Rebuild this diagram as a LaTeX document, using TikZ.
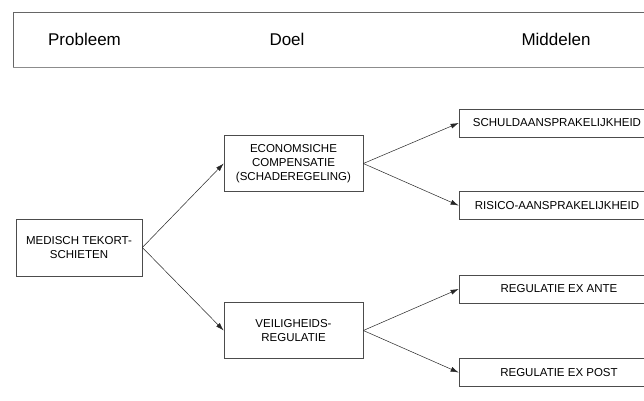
\documentclass[tikz,border=0pt]{standalone}
\usepackage{fontspec}
\setmainfont{Liberation Sans}
\usetikzlibrary{arrows.meta}
\begin{document}
\begin{tikzpicture}[x=1pt,y=-1pt,
  box/.style={draw=black!70, line width=0.7pt, align=center, inner sep=0pt,
    font=\fontsize{11.5}{14}\selectfont},
  goalbox/.style={box, minimum width=139pt, minimum height=56pt},
  probbox/.style={box, minimum width=126pt, minimum height=57pt},
  meansbox/.style={box, minimum width=200pt, minimum height=28pt},
  head/.style={font=\fontsize{17}{19}\selectfont, inner sep=0pt, anchor=base},
  link/.style={draw=black!85, line width=0.5pt, -{Latex[length=8pt,width=5pt]}}]
\useasboundingbox (0,0) rectangle (644,400);
\clip (0,0) rectangle (644,400);
\fill[white] (0,0) rectangle (644,400);
% header band
\draw[black!60, line width=0.7pt] (660,12) -- (13,12) -- (13,67.5);
\draw[black!45, line width=0.7pt] (13,67.5) -- (660,67.5);
\node[head] (hprob) at (84.5,45) {Probleem};
\node[head] (hdoel) at (287,45) {Doel};
\node[head] (hmid) at (556,45) {Middelen};
% problem
\node[probbox] (prob) at (79,247.5) {MEDISCH TEKORT-\\SCHIETEN};
% goals
\node[goalbox] (econ) at (293.5,163.5) {ECONOMSICHE\\COMPENSATIE\\(SCHADEREGELING)};
\node[goalbox] (veil) at (293.5,330.5) {VEILIGHEIDS-\\REGULATIE};
% means
\node[meansbox] (schuld) at (559,123) {\hspace*{-4pt}SCHULDAANSPRAKELIJKHEID};
\node[meansbox] (risico) at (559,205.5) {\hspace*{-4pt}RISICO-AANSPRAKELIJKHEID};
\node[meansbox] (ante) at (559,289) {REGULATIE EX ANTE};
\node[meansbox] (post) at (559,372.5) {REGULATIE EX POST};
% connectors
\draw[link] (prob.east) -- (econ.west);
\draw[link] (prob.east) -- (veil.west);
\draw[link] (econ.east) -- (schuld.west);
\draw[link] (econ.east) -- (risico.west);
\draw[link] (veil.east) -- (ante.west);
\draw[link] (veil.east) -- (post.west);
\end{tikzpicture}
\end{document}
